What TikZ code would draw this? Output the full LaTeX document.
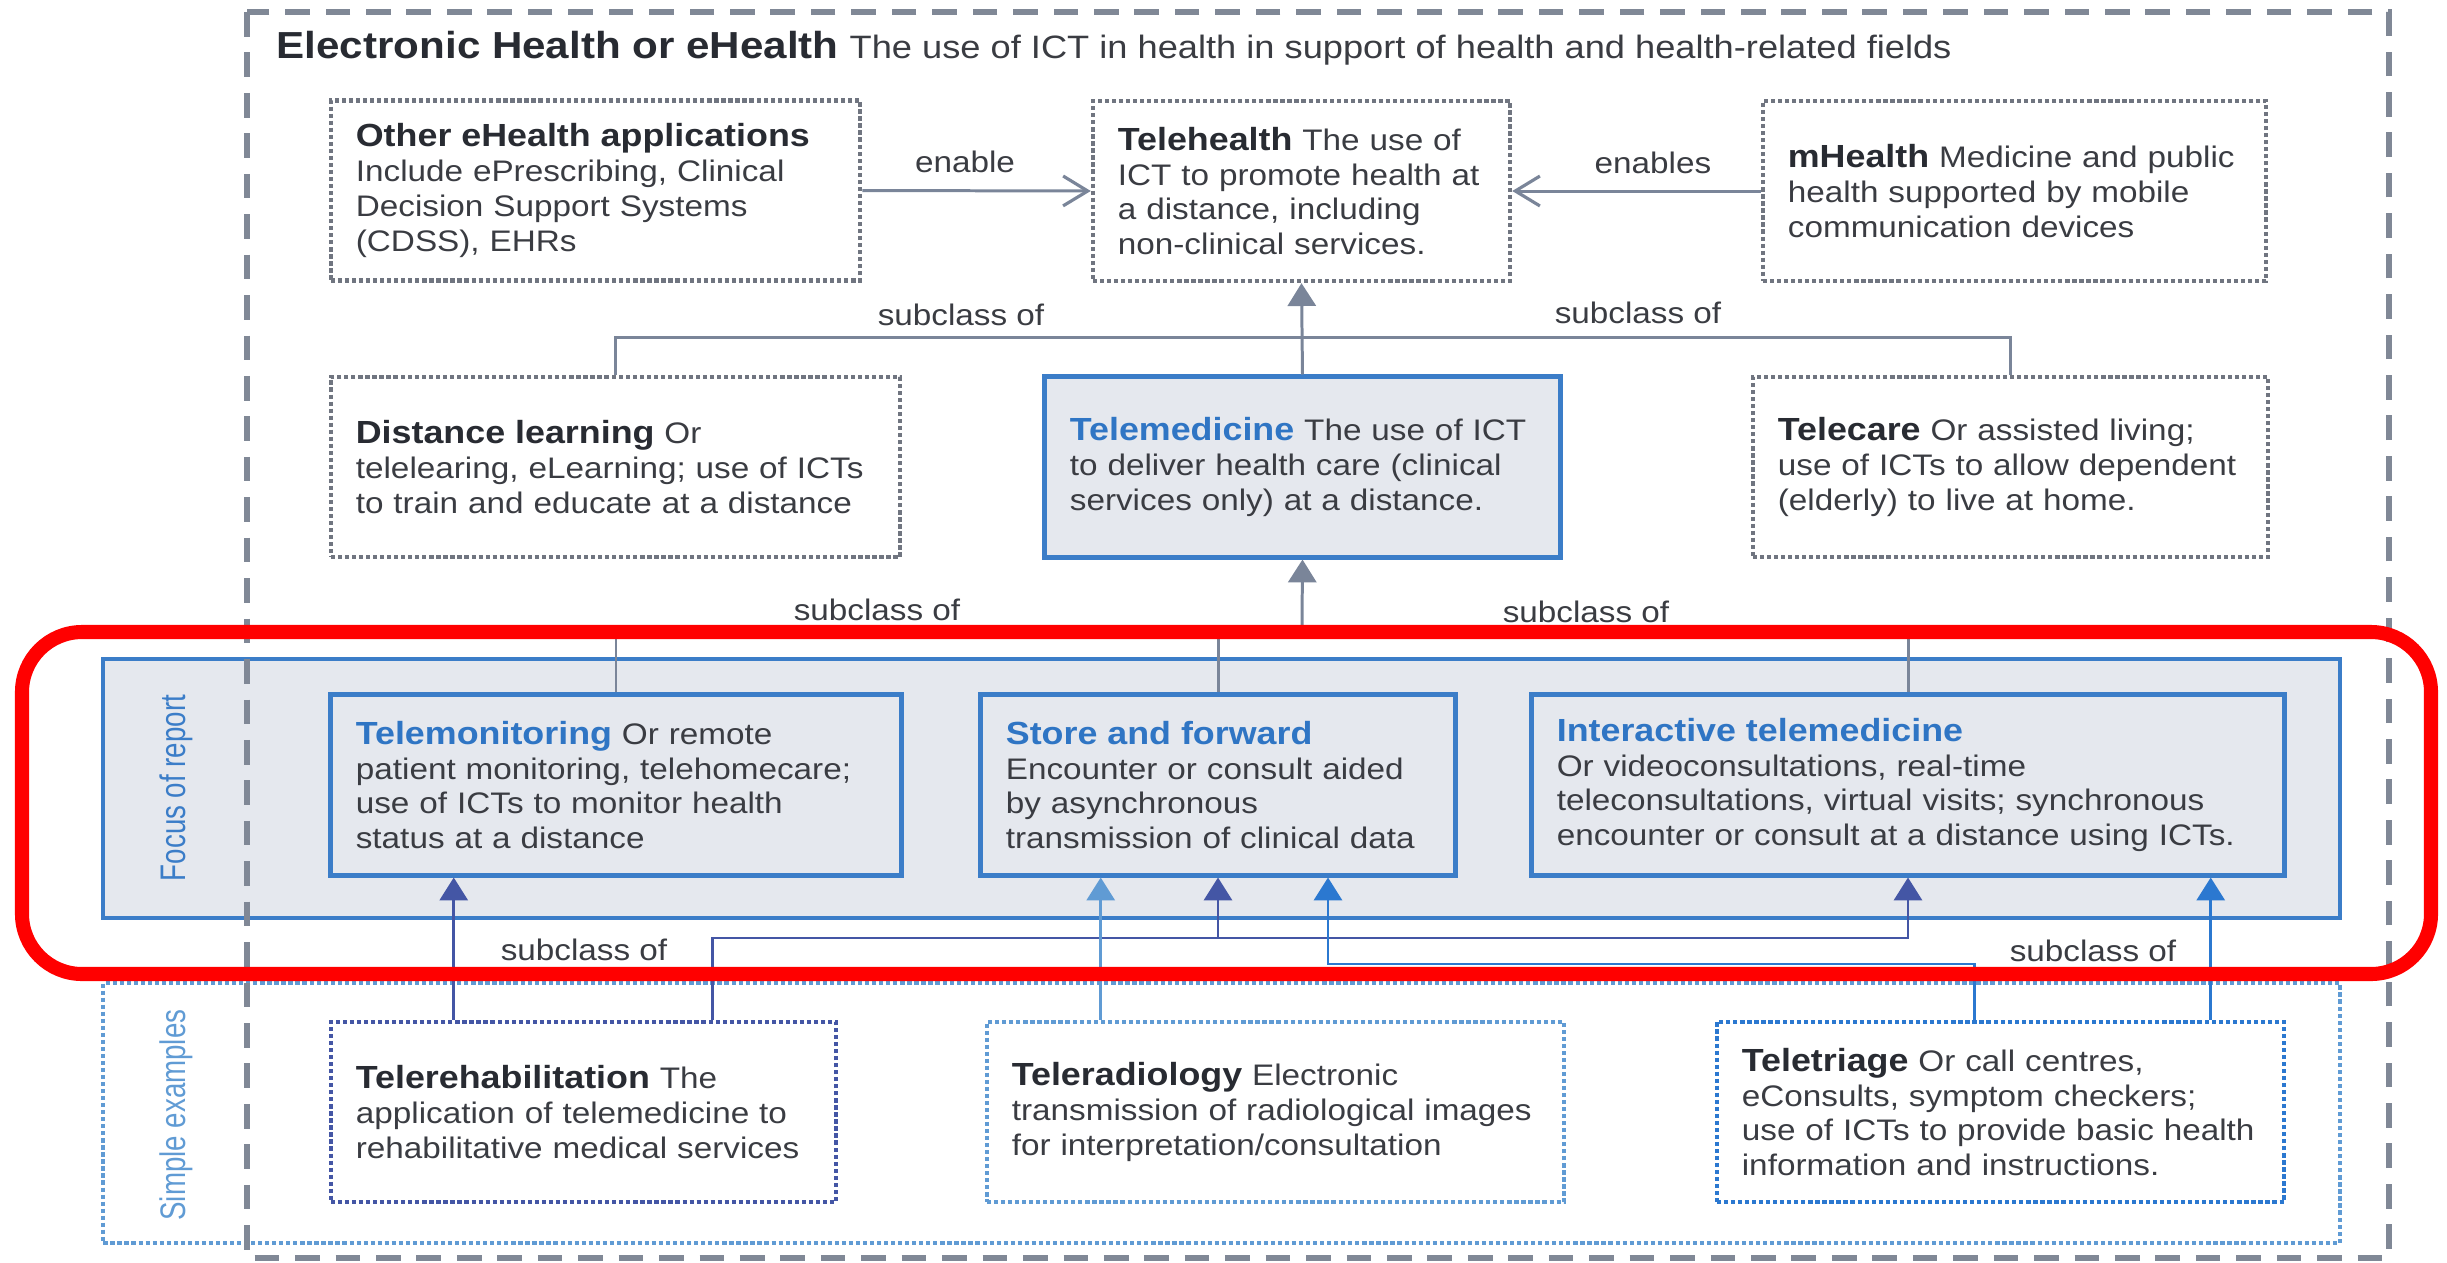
\documentclass[tikz,border=0pt]{standalone}
\usepackage{fontspec}
\setmainfont[FakeStretch=1.12]{Liberation Sans}
\newfontfamily\sidefont[FakeStretch=0.78]{Liberation Sans}
\usetikzlibrary{calc}
\usetikzlibrary{arrows.meta}

\definecolor{txt}{RGB}{58,60,66}
\definecolor{hdtxt}{RGB}{40,43,50}
\definecolor{hdblue}{RGB}{47,117,196}
\definecolor{boxblue}{RGB}{59,125,200}
\definecolor{bandfill}{RGB}{229,232,238}
\definecolor{conngray}{RGB}{122,133,153}
\definecolor{dotgray}{RGB}{112,117,128}
\definecolor{framegray}{RGB}{128,136,150}
\definecolor{navyblue}{RGB}{68,86,165}
\definecolor{ltblue}{RGB}{96,155,212}
\definecolor{midblue}{RGB}{43,120,208}
\definecolor{hilite}{RGB}{255,0,0}

\newcommand{\hd}[1]{{\fontsize{9.1}{9.9}\selectfont\bfseries\color{hdtxt}#1}}
\newcommand{\hb}[1]{{\fontsize{9.1}{9.9}\selectfont\bfseries\color{hdblue}#1}}

\tikzset{
  box/.style={draw=dotgray,line width=1.2pt,dash pattern=on 1.2pt off 0.8pt,
    inner xsep=0.25cm,inner ysep=0pt,align=left,text=txt,
    font=\fontsize{8.45}{9.9}\selectfont,minimum height=1.8cm},
  sbox/.style={box,solid,draw=boxblue,line width=1.4pt,fill=bandfill},
  band/.style={draw=boxblue,line width=1.1pt,fill=bandfill,inner sep=0pt,
    minimum width=22.35cm,minimum height=2.59cm},
  exband/.style={draw=ltblue,line width=1.2pt,dash pattern=on 1.2pt off 0.8pt,
    inner sep=0pt,minimum width=22.35cm,minimum height=2.6cm},
  frame/.style={draw=framegray,line width=1.5pt,dash pattern=on 7pt off 4.5pt},
  lbl/.style={text=txt,font=\fontsize{8.45}{9.9}\selectfont,inner sep=1pt},
  side/.style={rotate=90,text=boxblue,font=\sidefont\fontsize{10.1}{11}\selectfont,inner sep=0pt},
  gconn/.style={draw=conngray,line width=0.85pt},
  tip/.style={-{Triangle[length=6.5pt,width=8pt]}},
  barb/.style={-{Straight Barb[length=7pt,width=8.5pt,line width=0.9pt]}}
}

\begin{document}
\begin{tikzpicture}[x=0.01cm,y=-0.01cm]
  \useasboundingbox (0,0) rectangle (2447,1263);

  % bands
  \node[band] (focus) at (1221.5,788.5) {};
  \node[exband] (simple) at (1221.5,1113) {};
  \node[side] (focuslbl) at (176,788) {Focus of report};
  \node[side,text=ltblue] (simplelbl) at (176,1115) {Simple examples};

  \coordinate (fr1) at (247,12);
  \coordinate (fr2) at (2389,1258);
  \draw[frame] (fr1) rectangle (fr2);

  \node[anchor=west,inner sep=0pt,text=txt] (title) at (276,48)
    {{\fontsize{10.7}{12}\selectfont\bfseries\color{hdtxt}Electronic Health or eHealth}
     {\fontsize{9.2}{12}\selectfont The use of ICT in health in support of health and health-related fields}};

  % top row
  \node[box,text width=4.79cm] (other) at (595.5,190.5)
    {\hd{Other eHealth applications}\\Include ePrescribing, Clinical\\Decision Support Systems\\(CDSS), EHRs};
  \node[box,text width=3.67cm] (telehealth) at (1301.5,191)
    {\hd{Telehealth} The use of\\ICT to promote health at\\a distance, including\\non-clinical services.};
  \node[box,text width=4.53cm] (mhealth) at (2014.5,191)
    {\hd{mHealth} Medicine and public\\health supported by mobile\\communication devices};

  % middle row
  \node[box,text width=5.19cm] (distance) at (615.5,467)
    {\hd{Distance learning} Or\\telelearing, eLearning; use of ICTs\\to train and educate at a distance};
  \node[sbox,text width=4.65cm] (telemed) at (1302.5,467)
    {\hb{Telemedicine} The use of ICT\\to deliver health care (clinical\\services only) at a distance.};
  \node[box,text width=4.65cm] (telecare) at (2010.5,467)
    {\hd{Telecare} Or assisted living;\\use of ICTs to allow dependent\\(elderly) to live at home.};

  % focus of report
  \node[sbox,text width=5.20cm] (telemon) at (616,785)
    {\hb{Telemonitoring} Or remote\\patient monitoring, telehomecare;\\use of ICTs to monitor health\\status at a distance};
  \node[sbox,text width=4.24cm] (storefwd) at (1218,785)
    {\hb{Store and forward}\\Encounter or consult aided\\by asynchronous\\transmission of clinical data};
  \node[sbox,text width=7.02cm] (interact) at (1908,785)
    {\hb{Interactive telemedicine}\\Or videoconsultations, real-time\\teleconsultations, virtual visits; synchronous\\encounter or consult at a distance using ICTs.};

  % simple examples
  \node[box,draw=navyblue,text width=4.55cm] (telerehab) at (583.5,1112)
    {\hd{Telerehabilitation} The\\application of telemedicine to\\rehabilitative medical services};
  \node[box,draw=ltblue,text width=5.27cm] (teleradio) at (1275.5,1112)
    {\hd{Teleradiology} Electronic\\transmission of radiological images\\for interpretation/consultation};
  \node[box,draw=midblue,text width=5.17cm] (teletriage) at (2000.5,1112)
    {\hd{Teletriage} Or call centres,\\eConsults, symptom checkers;\\use of ICTs to provide basic health\\information and instructions.};

  % enable
  \draw[gconn,barb] (other.east) -- (telehealth.west);
  \draw[gconn,barb] (mhealth.west) -- (telehealth.east);
  \node[lbl] (enbl) at (965,162) {enable};
  \node[lbl] (enbls) at (1653,163) {enables};

  % subclass of
  \coordinate (bar1) at (1302,337);
  \coordinate (bar2) at (1302,626);
  \draw[gconn,tip] (telemed.north) -- (telehealth.south);
  \draw[gconn] (distance.north) |- (bar1) -| (telecare.north);
  \draw[gconn,tip] (bar2) -- (telemed.south);
  \draw[gconn] (telemon.north) |- (bar2) -| (interact.north);
  \draw[gconn] (storefwd.north) -- (storefwd.north |- bar2);
  \node[lbl] (sc1) at (961,315) {subclass of};
  \node[lbl] (sc2) at (1638,313) {subclass of};
  \node[lbl] (sc3) at (877,610) {subclass of};
  \node[lbl] (sc4) at (1586,612) {subclass of};

  \coordinate (rh1) at ($(telerehab.north west)+(125,0)$);
  \coordinate (rh2) at ($(telerehab.north west)+(384,0)$);
  \coordinate (rd1) at ($(teleradio.north west)+(116,0)$);
  \coordinate (tt1) at ($(teletriage.north west)+(260,0)$);
  \coordinate (tt2) at ($(teletriage.north west)+(496,0)$);
  \coordinate (sf3) at ($(storefwd.south)+(110,0)$);
  \coordinate (lvl1) at (0,938);
  \coordinate (lvl2) at (0,964);

  \draw[gconn,navyblue,line width=0.75pt,tip] (rh1) -- (rh1 |- telemon.south);
  \draw[gconn,navyblue,line width=0.75pt,tip] (rh2) |- (lvl1 -| interact.south) -- (interact.south);
  \draw[gconn,navyblue,line width=0.75pt,tip] (storefwd.south |- lvl1) -- (storefwd.south);
  \draw[gconn,ltblue,line width=0.75pt,tip] (rd1) -- (rd1 |- storefwd.south);
  \draw[gconn,midblue,line width=0.75pt,tip] (tt1) |- (lvl2 -| sf3) -- (sf3);
  \draw[gconn,midblue,line width=0.75pt,tip] (tt2) -- (tt2 |- interact.south);
  \node[lbl] (sc5) at (584,950) {subclass of};
  \node[lbl] (sc6) at (2093,951) {subclass of};

  % highlight
  \draw[hilite,line width=4pt,rounded corners=0.6cm] (22,632) rectangle (2431,974);
\end{tikzpicture}
\end{document}
